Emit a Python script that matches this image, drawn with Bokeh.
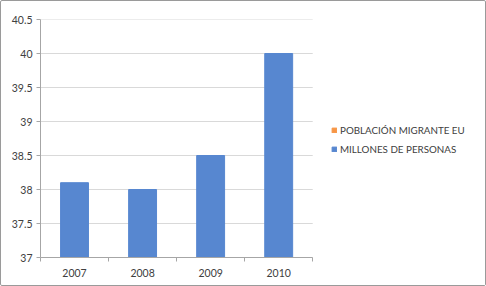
from bokeh.plotting import figure
from bokeh.models import ColumnDataSource, FixedTicker, Legend, LegendItem, Range1d
from bokeh.embed import file_html
from bokeh.resources import INLINE

years = ["2007", "2008", "2009", "2010"]
millones = [38.1, 38.0, 38.5, 40.0]
poblacion_migrante = [float("nan"), float("nan"), float("nan"), float("nan")]
y_ticks = [37, 37.5, 38, 38.5, 39, 39.5, 40, 40.5]
y_tick_labels = ["37", "37.5", "38", "38.5", "39", "39.5", "40", "40.5"]
series_names = ["POBLACIÓN MIGRANTE EU", "MILLONES DE PERSONAS"]
series_colors = ["#f79646", "#5787d0"]

n = len(years)
xpos = [i + 1 for i in range(n)]
src = ColumnDataSource(dict(x=xpos, top=millones, year=years))
src0 = ColumnDataSource(dict(x=xpos, top=poblacion_migrante, year=years))

# layout (pixels)
W, H = 486, 286
inner_w, inner_h = W - 2, H - 2
left, top, bottom = 39, 18, 30
plot_w = 271  # width of the bar area
frame_w = inner_w - left
x_end = 0.5 + n * frame_w / plot_w

p = figure(width=W, height=H, output_backend="svg", toolbar_location=None,
           x_range=Range1d(0.5, x_end), y_range=Range1d(y_ticks[0], y_ticks[-1]),
           min_border_left=left, min_border_right=0, min_border_top=top, min_border_bottom=bottom)
p.outline_line_color = None
p.background_fill_color = "white"
p.border_fill_color = "white"
p.styles = {"border": "1px solid #9a9a9a", "box-sizing": "border-box", "border-radius": "2px"}

# horizontal gridlines limited to the bar area
p.segment(x0=0.5, x1=n + 0.5, y0=y_ticks, y1=y_ticks, line_color="#d9d9d9", line_width=1)

r_empty = p.vbar(x="x", top="top", bottom=y_ticks[0], width=0.41, source=src0,
                 fill_color=series_colors[0], line_color=series_colors[0])
r_main = p.vbar(x="x", top="top", bottom=y_ticks[0], width=0.41, source=src,
                fill_color=series_colors[1], line_color=series_colors[1])

font = "Lato"
p.yaxis.ticker = FixedTicker(ticks=y_ticks)
p.yaxis.major_label_overrides = {t: l for t, l in zip(y_ticks, y_tick_labels)}
p.yaxis.minor_tick_line_color = None
p.yaxis.major_tick_in = 0
p.yaxis.major_tick_out = 4
p.yaxis.axis_line_color = "#a6a6a6"
p.yaxis.major_tick_line_color = "#a6a6a6"
p.yaxis.major_label_text_font = font
p.yaxis.major_label_text_font_size = "10.5px"
p.yaxis.major_label_text_color = "#404040"
p.yaxis.major_label_standoff = 4

p.xaxis.ticker = FixedTicker(ticks=xpos, minor_ticks=[x - 0.5 for x in xpos] + [xpos[-1] + 0.5])
p.xaxis.bounds = (0.5, n + 0.5)
p.xaxis.major_label_overrides = {x: y for x, y in zip(xpos, years)}
p.xaxis.major_tick_line_color = None
p.xaxis.major_tick_out = 4
p.xaxis.minor_tick_in = 0
p.xaxis.minor_tick_out = 4
p.xaxis.minor_tick_line_color = "#a6a6a6"
p.xaxis.axis_line_color = "#a6a6a6"
p.xaxis.major_label_text_font = font
p.xaxis.major_label_text_font_size = "10.5px"
p.xaxis.major_label_text_color = "#404040"
p.xaxis.major_label_standoff = 7

p.xgrid.grid_line_color = None
p.ygrid.grid_line_color = None

legend = Legend(items=[LegendItem(label=series_names[0], renderers=[r_empty]),
                       LegendItem(label=series_names[1], renderers=[r_main])],
                location=(291, 102), orientation="vertical")
legend.glyph_width = 6
legend.glyph_height = 6
legend.label_height = 12
legend.spacing = 7
legend.label_standoff = 3
legend.padding = 0
legend.margin = 0
legend.border_line_color = None
legend.background_fill_alpha = 0
legend.label_text_font = font
legend.label_text_font_size = "9.8px"
legend.label_text_color = "#404040"
p.add_layout(legend)

open("out.html", "w").write(file_html(p, INLINE))
